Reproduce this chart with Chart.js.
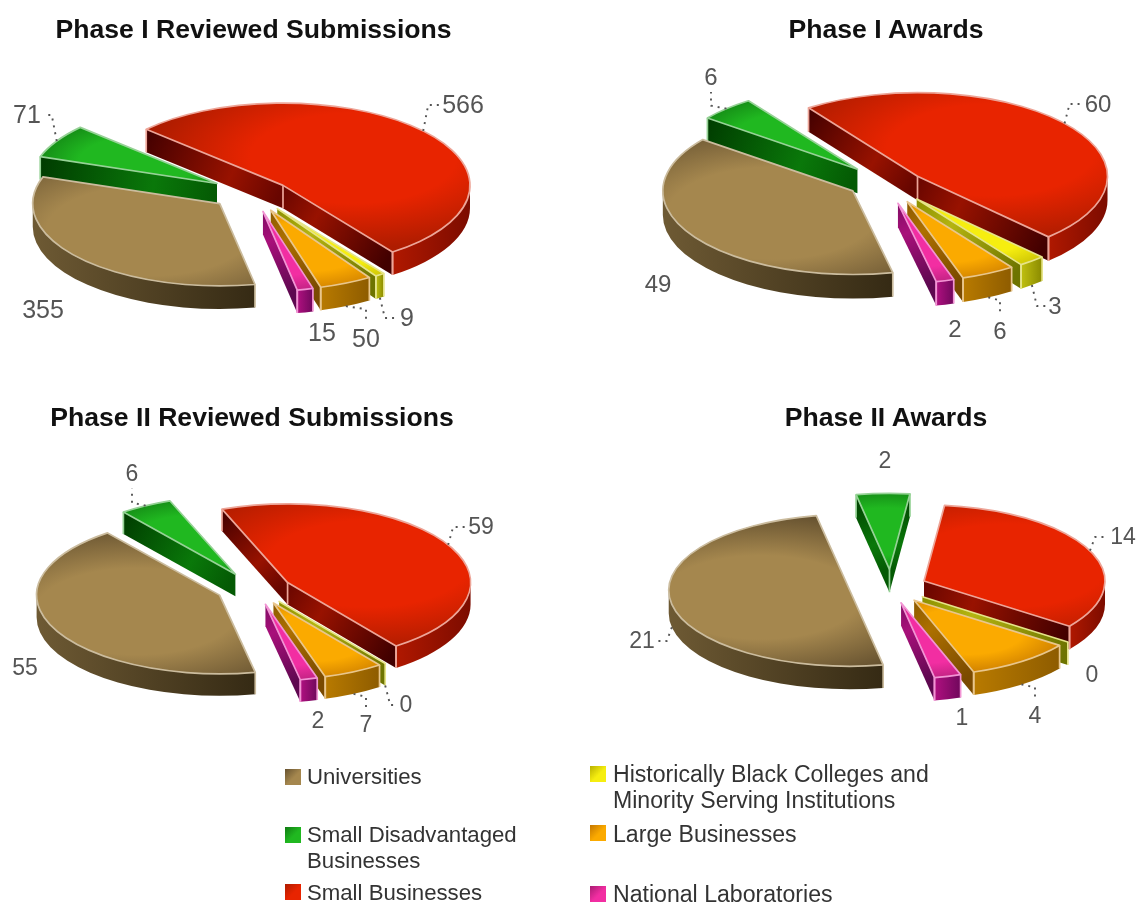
<!DOCTYPE html>
<html><head><meta charset="utf-8">
<script src="https://cdn.jsdelivr.net/npm/chart.js@4"></script>
<style>
html,body{margin:0;padding:0;background:#fff;width:1138px;height:909px;overflow:hidden;font-family:"Liberation Sans",Arial,sans-serif}
canvas{position:absolute;filter:blur(.4px)}
.t{position:absolute;font-weight:bold;font-size:26.6px;line-height:28px;color:#111;transform:translateX(-50%);white-space:nowrap;filter:blur(.3px)}
.s{position:absolute;width:16px;height:16px;filter:blur(.5px)}
.l{position:absolute;line-height:26px;color:#333;white-space:nowrap;filter:blur(.3px)}
</style></head><body>
<script>
// ---- data ----
const categories = ["Small Businesses","Historically Black Colleges and Minority Serving Institutions","Large Businesses","National Laboratories","Universities","Small Disadvantaged Businesses"];
const phase1Submissions = [566, 9, 50, 15, 355, 71];
const phase1Awards      = [60, 3, 6, 2, 49, 6];
const phase2Submissions = [59, 0, 7, 2, 55, 6];
const phase2Awards      = [14, 0, 4, 1, 21, 2];
const chartTitles = ["Phase I Reviewed Submissions","Phase I Awards","Phase II Reviewed Submissions","Phase II Awards"];

// ---- style ----
const palette = [
 {top:"#e82400",edge:"#ae1c00",wall:"#981200",wallA:"#680600",wallD:"#420000",outL:"#b01800",outR:"#7c0c00",rim:"#eda598"},
 {top:"#f6ee10",edge:"#b8b000",wall:"#b4b410",wallA:"#8c9000",wallD:"#6e7400",outL:"#c0c010",outR:"#8a8a00",rim:"#e6e488"},
 {top:"#fbaa00",edge:"#c47600",wall:"#ad7000",wallA:"#8c5a00",wallD:"#7a4a00",outL:"#b87a00",outR:"#8e5c00",rim:"#e9c68c"},
 {top:"#f22ea2",edge:"#a81c72",wall:"#a8107a",wallA:"#800c64",wallD:"#5e0850",outL:"#b01080",outR:"#70085c",rim:"#f294d4"},
 {top:"#a5874e",edge:"#665230",wall:"#5e4c2c",wallA:"#4a3a20",wallD:"#332810",outL:"#6e5a34",outR:"#352a14",rim:"#cbbc9e"},
 {top:"#20b820",edge:"#107a12",wall:"#0a780a",wallA:"#045a04",wallD:"#003c00",outL:"#0a780a",outR:"#004a00",rim:"#96d296"}
];
const legendColors = ["#e82400","#f6ee10","#fbaa00","#f22ea2","#a5874e","#20b820"];
const charts = [
 {data:phase1Submissions, rotation:-47, cx:253, cy:193, radius:187, k:.44, depth:23, font:25,
  explode:[40,43,43,43,44,42], nudgeY:[4,0,0,0,-2,0], inset:[0,5,5,5,0,0],
  labels:[[463,105],[407,318],[366,339],[322,333],[43,310],[27,115]],
  leaders:["vh","vh","hv",null,null,"vh"]},
 {data:phase1Awards, rotation:-35, cx:885, cy:182, radius:190, k:.44, depth:24, font:24,
  explode:[42,50,50,50,38,40], nudgeY:[6,0,0,0,0,0], inset:[0,8,8,8,0,0],
  labels:[[1098,104],[1055,306],[1000,331],[955,329],[658,284],[711,77]],
  leaders:["vh","vh","hv",null,null,"hv"]},
 {data:phase2Submissions, rotation:-21, cx:256, cy:588, radius:183, k:.43, depth:22, font:23,
  explode:[36,39,39,39,40,42], nudgeY:[2,0,0,0,0,2], inset:[0,4,4,4,0,0],
  labels:[[481,527],[406,705],[366,725],[318,721],[25,668],[132,474]],
  leaders:["vh","vh","hv",null,null,"hv"]},
 {data:phase2Awards, rotation:6.5, cx:891, cy:587, radius:181, k:.42, depth:23, font:23,
  explode:[36,39,39,39,42,42], nudgeY:[0,0,0,0,0,0], inset:[0,0,0,0,0,0],
  labels:[[1123,537],[1092,675],[1035,716],[962,718],[642,641],[885,461]],
  leaders:["vh",null,"hv",null,"vh",null]}
];
const titlePos = [[253.5,15],[886,15],[252,403],[886,403]];
const legendItems = [
 {i:4,size:22.2,sx:285,sy:769,tx:307,ty:764,lines:["Universities"]},
 {i:5,size:22.2,sx:285,sy:827,tx:307,ty:822,lines:["Small Disadvantaged","Businesses"]},
 {i:0,size:22.2,sx:285,sy:884,tx:307,ty:880,lines:["Small Businesses"]},
 {i:1,size:23.1,sx:590,sy:766,tx:613,ty:761,lines:["Historically Black Colleges and","Minority Serving Institutions"]},
 {i:2,size:23.1,sx:590,sy:825,tx:613,ty:821,lines:["Large Businesses"]},
 {i:3,size:23.1,sx:590,sy:886,tx:613,ty:881,lines:["National Laboratories"]}
];
const CW = 640, CH = 460;

function slicePlugin(cfg){
  return {
    id:"extruded",
    beforeDatasetDraw(chart){
      const ctx = chart.ctx, arcs = chart.getDatasetMeta(0).data, k = cfg.k, dep = cfg.depth;
      const info = arcs.map((arc,i)=>{
        const a0 = arc.startAngle, a1 = arc.endAngle, mid = (a0+a1)/2, R = arc.outerRadius-cfg.inset[i], off = arc.options.offset||0;
        const ax = arc.x + Math.cos(mid)*off, ay = arc.y + Math.sin(mid)*off*k + cfg.nudgeY[i];
        return {i,a0,a1,mid,R,ax,ay,sortY:ay + Math.sin(mid)*R*k*.6};
      });
      info.slice().sort((p,q)=>p.sortY-q.sortY).forEach(s=>drawSlice(ctx,s,k,dep));
      // value labels and dotted leaders
      ctx.save();
      info.forEach(s=>{
        const p = cfg.labels[s.i], lx = p[0]-chart.canvas.offsetLeft, ly = p[1]-chart.canvas.offsetTop;
        const text = String(cfg.data[s.i]);
        ctx.font = cfg.font+'px "Liberation Sans", Arial, sans-serif';
        const w = ctx.measureText(text).width;
        ctx.fillStyle = "#555"; ctx.textAlign="center"; ctx.textBaseline="middle";
        ctx.fillText(text,lx,ly+1);
        const mode = cfg.leaders[s.i];
        if(mode){
          const bottom = Math.sin(s.mid)>0;
          const px = s.ax+Math.cos(s.mid)*s.R, py = s.ay+Math.sin(s.mid)*s.R*k+(bottom?dep:0);
          ctx.beginPath(); ctx.moveTo(px,py);
          if(mode==="vh"){
            const dir = lx>px?1:-1, ex = lx-dir*(w/2+3);
            ctx.lineTo(px+dir*Math.min(5,Math.abs(ex-px)/2),ly); ctx.lineTo(ex,ly);
          } else {
            const dy = ly>py?1:-1, ey = ly-dy*(cfg.font*.5+3);
            ctx.lineTo(lx,py+dy*Math.min(3,Math.abs(ey-py)/2)); ctx.lineTo(lx,ey);
          }
          ctx.setLineDash([2,5]); ctx.lineWidth=1.9; ctx.strokeStyle="#555"; ctx.stroke(); ctx.setLineDash([]);
        }
      });
      ctx.restore();
      return false;
    }
  };
}
function drawSlice(ctx,s,k,dep){
  const c = palette[s.i], {ax,ay,R,a0,a1,mid} = s;
  const P = a=>[ax+Math.cos(a)*R, ay+Math.sin(a)*R*k];
  const p0=P(a0), p1=P(a1);
  const rim = ()=>{ctx.strokeStyle=c.rim;ctx.lineWidth=1.7;ctx.lineJoin="round";};
  const vis0 = Math.sin(a0-Math.PI/2)>0, vis1 = Math.sin(a1+Math.PI/2)>0;
  const wall = p=>{
    const g = ctx.createLinearGradient(ax,ay,p[0],p[1]);
    g.addColorStop(0,c.wallA); g.addColorStop(.35,c.wall); g.addColorStop(1,c.wallD);
    ctx.fillStyle=g; ctx.beginPath(); ctx.moveTo(ax,ay); ctx.lineTo(p[0],p[1]); ctx.lineTo(p[0],p[1]+dep); ctx.lineTo(ax,ay+dep); ctx.closePath(); ctx.fill();
  };
  if(vis0) wall(p0);
  if(vis1) wall(p1);
  // outer rim wall: only the near half of the ellipse shows
  for(let n=-2;n<=2;n++){
    const lo=Math.max(a0,2*Math.PI*n), hi=Math.min(a1,2*Math.PI*n+Math.PI);
    if(hi<=lo) continue;
    const xs=[P(lo)[0],P(hi)[0]];
    const g=ctx.createLinearGradient(Math.min(...xs),0,Math.max(...xs),0);
    g.addColorStop(0,c.outL); g.addColorStop(1,c.outR);
    ctx.fillStyle=g; ctx.beginPath();
    ctx.ellipse(ax,ay,R,R*k,0,lo,hi);
    ctx.ellipse(ax,ay+dep,R,R*k,0,hi,lo,true);
    ctx.closePath(); ctx.fill();
    // vertical highlight at the visible ends of the rim wall
    rim(); ctx.beginPath();
    if(lo===a0){ctx.moveTo(p0[0],p0[1]);ctx.lineTo(p0[0],p0[1]+dep);}
    if(hi===a1){ctx.moveTo(p1[0],p1[1]);ctx.lineTo(p1[0],p1[1]+dep);}
    ctx.stroke();
  }
  rim(); ctx.beginPath();
  if(vis0&&vis1){ctx.moveTo(ax,ay);ctx.lineTo(ax,ay+dep);}
  if(vis0){ctx.moveTo(p0[0],p0[1]);ctx.lineTo(p0[0],p0[1]+dep);}
  if(vis1){ctx.moveTo(p1[0],p1[1]);ctx.lineTo(p1[0],p1[1]+dep);}
  ctx.stroke();
  // top face with a soft radial shade
  ctx.beginPath(); ctx.moveTo(ax,ay); ctx.ellipse(ax,ay,R,R*k,0,a0,a1); ctx.closePath();
  const sweep=a1-a0, big=sweep>1.2;
  ctx.save();
  ctx.translate(ax+Math.cos(mid)*R*.5, ay+Math.sin(mid)*R*.5*k);
  ctx.scale(1,k);
  const g=ctx.createRadialGradient(0,0,0,0,0,big?R*1.1:R*.62);
  g.addColorStop(0,c.top); g.addColorStop(.5,c.top); g.addColorStop(1,c.edge);
  ctx.fillStyle=g; ctx.fill();
  ctx.restore();
  rim(); ctx.stroke();
}
charts.forEach((cfg,n)=>{
  const cv=document.createElement("canvas");
  cv.width=CW; cv.height=CH;
  cv.style.left=(cfg.cx-CW/2)+"px"; cv.style.top=(cfg.cy-CH/2)+"px";
  document.body.appendChild(cv);
  new Chart(cv,{
    type:"pie",
    data:{labels:categories,datasets:[{data:cfg.data,backgroundColor:legendColors,offset:cfg.explode,borderWidth:0,clip:false}]},
    options:{responsive:false,animation:false,rotation:cfg.rotation,radius:cfg.radius,
      layout:{padding:0},events:[],
      plugins:{legend:{display:false},tooltip:{enabled:false},title:{display:false}}},
    plugins:[slicePlugin(cfg)]
  });
  const t=document.createElement("div"); t.className="t"; t.textContent=chartTitles[n];
  t.style.left=titlePos[n][0]+"px"; t.style.top=titlePos[n][1]+"px"; document.body.appendChild(t);
});
legendItems.forEach(it=>{
  const s=document.createElement("div"); s.className="s";
  s.style.left=it.sx+"px"; s.style.top=it.sy+"px";
  const p=palette[it.i];
  s.style.background="linear-gradient(135deg,"+p.edge+" 0%,"+p.top+" 55%,"+p.top+" 100%)";
  document.body.appendChild(s);
  it.lines.forEach((ln,j)=>{
    const d=document.createElement("div"); d.className="l"; d.textContent=ln; d.style.fontSize=it.size+"px";
    d.style.left=it.tx+"px"; d.style.top=(it.ty+j*26)+"px"; document.body.appendChild(d);
  });
});
</script>
</body></html>
